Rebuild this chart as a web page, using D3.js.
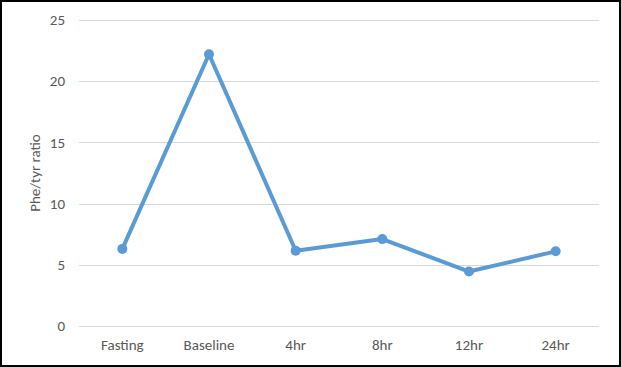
<!DOCTYPE html>
<html>
<head>
<meta charset="utf-8">
<script src="https://cdn.jsdelivr.net/npm/d3@7"></script>
<style>
  html, body { margin: 0; padding: 0; background: #fff; }
  svg { display: block; }
  text { font-family: Calibri, Carlito, "Open Sans", sans-serif; fill: #595959; }
</style>
</head>
<body>
<div id="chart"></div>
<script>
// data
const categories = ['Fasting', 'Baseline', '4hr', '8hr', '12hr', '24hr']
const ratios = [6.3, 22.2, 6.15, 7.1, 4.45, 6.1]
const yTicks = [0, 5, 10, 15, 20, 25]

const width = 621
const height = 367
const margin = {top: 20, right: 22, bottom: 41, left: 79}

const svg = d3.select('#chart')
  .append('svg')
  .attr('width', width)
  .attr('height', height)

// outer frame
svg.append('rect')
  .attr('x', 1)
  .attr('y', 1)
  .attr('width', width - 2)
  .attr('height', height - 2)
  .style('fill', '#fff')
  .style('stroke', '#000')
  .style('stroke-width', 2)

const x = d3.scaleBand()
  .domain(categories)
  .range([margin.left, width - margin.right])

const y = d3.scaleLinear()
  .domain([0, 25])
  .range([height - margin.bottom, margin.top])

// gridlines
svg.append('g')
  .selectAll('line')
  .data(yTicks)
  .enter()
  .append('line')
  .attr('x1', margin.left)
  .attr('x2', width - margin.right)
  .attr('y1', d => Math.round(y(d)) + 0.5)
  .attr('y2', d => Math.round(y(d)) + 0.5)
  .style('stroke', '#d9d9d9')
  .style('stroke-width', 1)

// y tick labels
svg.append('g')
  .selectAll('text')
  .data(yTicks)
  .enter()
  .append('text')
  .attr('x', 65)
  .attr('y', d => y(d))
  .attr('dy', '0.35em')
  .attr('text-anchor', 'end')
  .style('font-size', '15px')
  .text(d => d)

// x labels
svg.append('g')
  .selectAll('text')
  .data(categories)
  .enter()
  .append('text')
  .attr('x', d => x(d) + x.bandwidth() / 2)
  .attr('y', 350)
  .attr('text-anchor', 'middle')
  .style('font-size', '15px')
  .text(d => d)

// axis title
svg.append('text')
  .attr('transform', `translate(40,${(y(0) + y(25)) / 2}) rotate(-90)`)
  .attr('text-anchor', 'middle')
  .style('font-size', '15px')
  .text('Phe/tyr ratio')

const points = categories.map((c, i) => ({c, v: ratios[i]}))

const line = d3.line()
  .x(d => x(d.c) + x.bandwidth() / 2)
  .y(d => y(d.v))

svg.append('path')
  .datum(points)
  .attr('d', line)
  .style('fill', 'none')
  .style('stroke', '#5b9bd5')
  .style('stroke-width', 4)
  .style('stroke-linejoin', 'round')

svg.append('g')
  .selectAll('circle')
  .data(points)
  .enter()
  .append('circle')
  .attr('cx', d => x(d.c) + x.bandwidth() / 2)
  .attr('cy', d => y(d.v))
  .attr('r', 5)
  .style('fill', '#5b9bd5')
</script>
</body>
</html>
